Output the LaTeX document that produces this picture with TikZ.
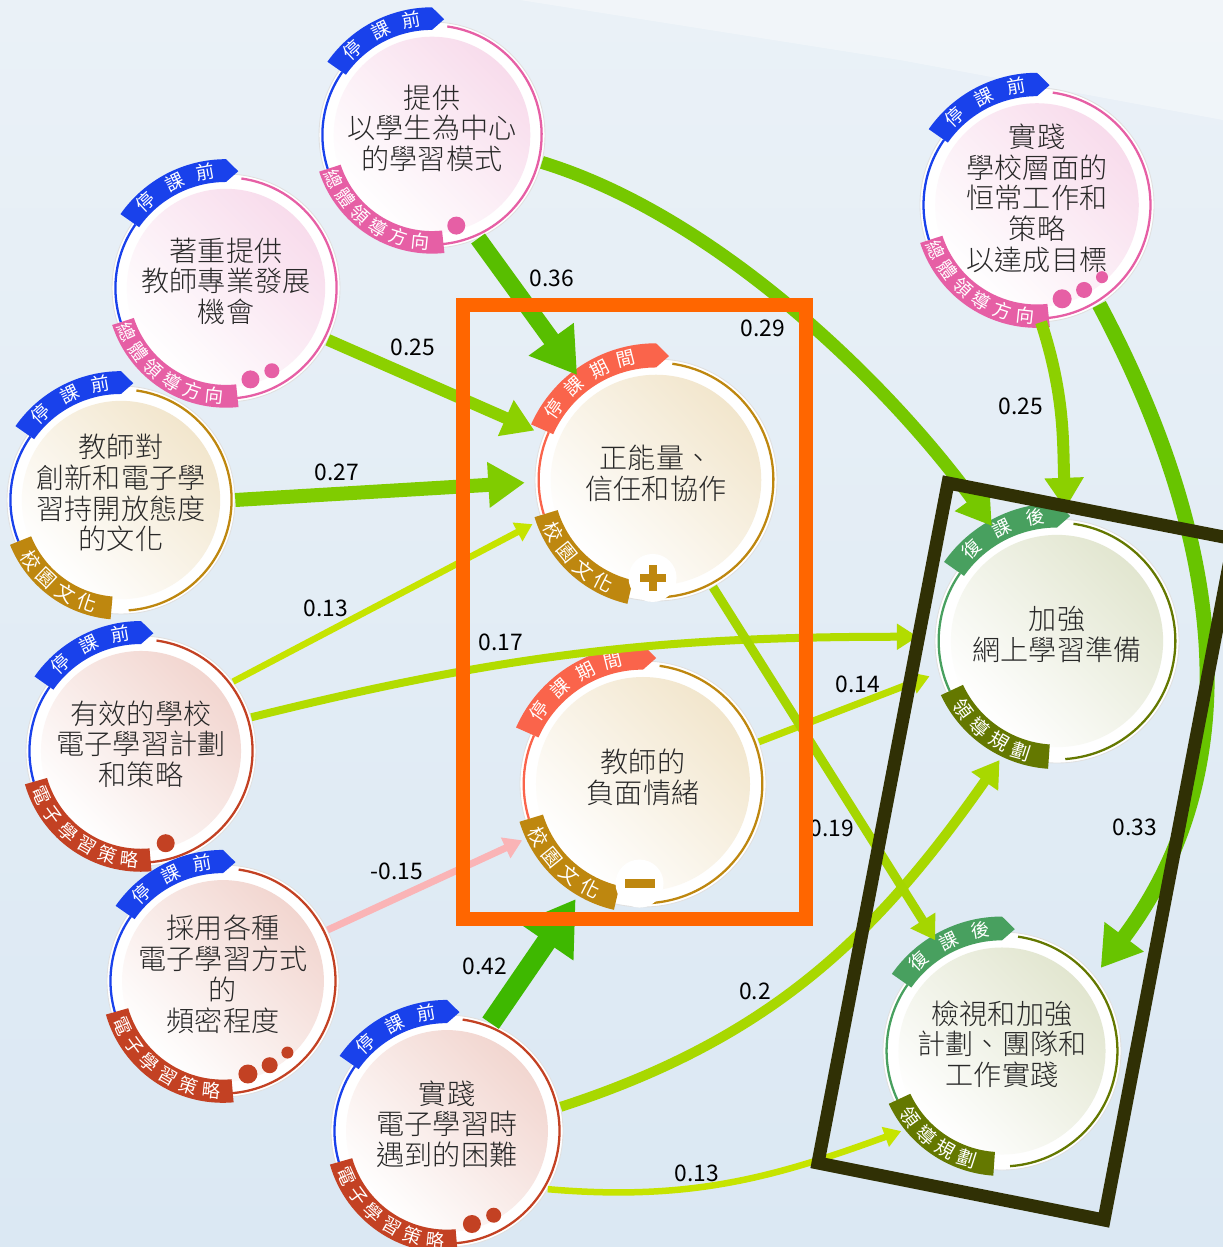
\documentclass[tikz,border=0pt]{standalone}
\usepackage{fontspec}
\setmainfont{Noto Sans CJK TC}
\newfontfamily\thincjk{Noto Sans CJK TC Light}
\usepackage{tikz}
\usetikzlibrary{calc}
\usetikzlibrary{arrows.meta}

\definecolor{bgtop}{RGB}{234,241,247}
\definecolor{bgbot}{RGB}{219,232,243}
\definecolor{txtgray}{RGB}{40,40,40}
\definecolor{stpre}{RGB}{25,65,235}
\definecolor{stdur}{RGB}{250,100,75}
\definecolor{stpost}{RGB}{72,160,95}
\definecolor{catpink}{RGB}{230,95,165}
\definecolor{catred}{RGB}{195,65,35}
\definecolor{catgold}{RGB}{190,135,15}
\definecolor{catolive}{RGB}{100,120,0}
\definecolor{tintpink}{RGB}{248,220,236}
\definecolor{tintred}{RGB}{242,214,208}
\definecolor{tintgold}{RGB}{242,230,205}
\definecolor{tintolive}{RGB}{226,230,208}
\definecolor{e42}{RGB}{62,184,0}
\definecolor{e36}{RGB}{88,190,0}
\definecolor{e33}{RGB}{104,196,0}
\definecolor{e29}{RGB}{118,200,0}
\definecolor{e27}{RGB}{128,204,0}
\definecolor{e25}{RGB}{140,208,0}
\definecolor{e20}{RGB}{168,216,0}
\definecolor{e19}{RGB}{165,214,0}
\definecolor{e17}{RGB}{178,220,0}
\definecolor{e14}{RGB}{186,222,0}
\definecolor{e13}{RGB}{198,228,0}
\definecolor{eneg}{RGB}{250,180,182}
\definecolor{boxorange}{RGB}{255,102,0}
\definecolor{boxolive}{RGB}{48,48,5}

\tikzset{
  bubtext/.style={circle, inner sep=0pt, align=center, text=txtgray, font=\thincjk\fontsize{16}{17.5}\selectfont},
  tagtext/.style={inner sep=0pt, text=white, font=\fontsize{10.5}{10.5}\selectfont},
  bigtag/.style={tagtext, font=\fontsize{11}{11}\selectfont},
  weight/.style={inner sep=1pt, text=black, font=\fontsize{13}{13}\selectfont},
  eff/.style 2 args={draw=#2, line width=#1*0.02cm, shorten >=0.2cm, -{Triangle[length=0pt 2.6, width=0pt 3.1]}},
  frame/.style 2 args={draw=#1, line width=#2*0.02cm, line join=miter},
}

\newcommand{\bubble}[5]{\fill[white, draw=black!12, line width=0.5pt] (#2) circle[radius=#3]; \shade[top color=#4, bottom color=white, shading angle=-45] (#2) circle[radius=0.87*#3]; \node[bubtext, minimum size=#3*0.04cm] (#1) at (#2) {#5\rule[-9pt]{0pt}{0pt}};}
\newcommand{\rings}[6]{\draw[#3, line width=1.3pt] ($(#1.center)+({#5}:{0.97*#2})$) arc[start angle=#5, end angle=#6, radius=0.97*#2]; \draw[#4, line width=1.3pt] ($(#1.center)+(82:{0.97*#2})$) arc[start angle=82, end angle=-86, radius=0.97*#2];}
\newcommand{\stagetag}[5]{\fill[#3] ($(#1.center)+({#4}:{1.13*#2})$) arc[start angle=#4, end angle=90, radius=1.13*#2] -- ($(#1.center)+(84:{1.03*#2})$) -- ($(#1.center)+(90:{0.93*#2})$) arc[start angle=90, end angle=#4, radius=0.93*#2] -- cycle; \foreach \ch/\ang [count=\k] in {#5} {\node[tagtext, rotate=\ang-90] (#1-s\k) at ($(#1.center)+(\ang:{1.03*#2})$) {\ch};}}
\newcommand{\cattag}[7]{\fill[#3] ($(#1.center)+({#4}:{1.05*#2})$) arc[start angle=#4, end angle=#5, radius=1.05*#2] -- ($(#1.center)+({#5}:{0.85*#2})$) arc[start angle=#5, end angle=#4, radius=0.85*#2] -- cycle; \foreach \ch/\ang [count=\k] in {#6} {\node[#7, rotate=\ang+90] (#1-c\k) at ($(#1.center)+(\ang:{0.95*#2})$) {\ch};}}
\newcommand{\pips}[4]{\foreach \ang/\sz in {#4} {\fill[#3] ($(#1.center)+(\ang:{0.83*#2})$) circle[radius=\sz];}}
\newcommand{\plusmark}[2]{\fill[white] ($(#1.center)+(-92:{0.81*#2})$) circle[radius=24]; \fill[catgold] ($(#1.center)+(-92:{0.81*#2})+(-13,-4)$) rectangle ++(26,8); \fill[catgold] ($(#1.center)+(-92:{0.81*#2})+(-4,-13)$) rectangle ++(8,26);}
\newcommand{\minusmark}[2]{\fill[white] ($(#1.center)+(-92:{0.81*#2})$) circle[radius=24]; \fill[catgold] ($(#1.center)+(-92:{0.81*#2})+(-15,-4.5)$) rectangle ++(30,9);}

\begin{document}
\begin{tikzpicture}[x=0.02cm, y=0.02cm]
    \useasboundingbox (0,0) rectangle (1223,-1247);
    \clip (0,0) rectangle (1223,-1247);
    \shade[top color=bgtop, bottom color=bgbot] (0,0) rectangle (1223,-1247);
    \fill[white, opacity=0.35] (520,0) -- (1223,0) -- (1223,-120) -- (900,-60) -- cycle;

    % before closure
    \bubble{A}{432,-135}{113}{tintpink}{提供\\以學生為中心\\的學習模式}
    \rings{A}{113}{stpre}{catpink}{145}{198}
    \stagetag{A}{113}{stpre}{145}{停/133,課/116,前/100}
    \cattag{A}{113}{catpink}{198}{276}{總/204,體/216,領/228,導/240,方/252,向/264}{tagtext}
    \pips{A}{113}{catpink}{-75/9}

    \bubble{B}{226,-288}{114}{tintpink}{著重提供\\教師專業發展\\機會}
    \rings{B}{114}{stpre}{catpink}{145}{198}
    \stagetag{B}{114}{stpre}{145}{停/133,課/116,前/100}
    \cattag{B}{114}{catpink}{198}{276}{總/204,體/216,領/228,導/240,方/252,向/264}{tagtext}
    \pips{B}{114}{catpink}{-75/9,-61/7.5}

    \bubble{C}{121,-500}{114}{tintgold}{教師對\\創新和電子學\\習持開放態度\\的文化}
    \rings{C}{114}{stpre}{catgold}{145}{202}
    \stagetag{C}{114}{stpre}{145}{停/133,課/116,前/100}
    \cattag{C}{114}{catgold}{202}{265}{校/214,園/226.5,文/239,化/251.5}{bigtag}

    \bubble{D}{141,-751}{115}{tintred}{有效的學校\\電子學習計劃\\和策略}
    \rings{D}{115}{stpre}{catred}{145}{196}
    \stagetag{D}{115}{stpre}{145}{停/133,課/116,前/100}
    \cattag{D}{115}{catred}{196}{275}{電/204,子/216,學/228,習/240,策/252,略/264}{tagtext}
    \pips{D}{115}{catred}{-75/9}

    \bubble{E}{223,-981}{116}{tintred}{採用各種\\電子學習方式\\的\\頻密程度}
    \rings{E}{116}{stpre}{catred}{145}{196}
    \stagetag{E}{116}{stpre}{145}{停/133,課/116,前/100}
    \cattag{E}{116}{catred}{196}{275}{電/204,子/216,學/228,習/240,策/252,略/264}{tagtext}
    \pips{E}{116}{catred}{-75/9.5,-61/8,-48/6}

    \bubble{F}{447,-1131}{116}{tintred}{實踐\\電子學習時\\遇到的困難}
    \rings{F}{116}{stpre}{catred}{145}{196}
    \stagetag{F}{116}{stpre}{145}{停/133,課/116,前/100}
    \cattag{F}{116}{catred}{196}{275}{電/204,子/216,學/228,習/240,策/252,略/264}{tagtext}
    \pips{F}{116}{catred}{-75/9,-61/7.5}

    \bubble{G}{1037,-205}{117}{tintpink}{實踐\\學校層面的\\恒常工作和\\策略\\以達成目標}
    \rings{G}{117}{stpre}{catpink}{145}{198}
    \stagetag{G}{117}{stpre}{145}{停/133,課/116,前/100}
    \cattag{G}{117}{catpink}{198}{276}{總/204,體/216,領/228,導/240,方/252,向/264}{tagtext}
    \pips{G}{117}{catpink}{-75/9.5,-61/8,-48/6}

    % during closure
    \bubble{H}{656,-480}{121}{tintgold}{正能量、\\信任和協作}
    \rings{H}{121}{stdur}{catgold}{156}{197}
    \stagetag{H}{121}{stdur}{156}{停/145,課/131,期/117,間/104}
    \cattag{H}{121}{catgold}{197}{257}{校/207,園/219,文/231,化/243}{bigtag}
    \plusmark{H}{121}

    \bubble{I}{643,-784}{123}{tintgold}{教師的\\負面情緒}
    \rings{I}{123}{stdur}{catgold}{156}{197}
    \stagetag{I}{123}{stdur}{156}{停/145,課/131,期/117,間/104}
    \cattag{I}{123}{catgold}{197}{257}{校/207,園/219,文/231,化/243}{bigtag}
    \minusmark{I}{123}

    % after resumption
    \bubble{J}{1057,-641}{122}{tintolive}{加強\\網上學習準備}
    \rings{J}{122}{stpost}{catolive}{145}{205}
    \stagetag{J}{122}{stpost}{145}{復/133,課/116,後/100}
    \cattag{J}{122}{catolive}{205}{266}{領/216,導/228,規/240,劃/252}{bigtag}

    \bubble{K}{1002,-1051}{119}{tintolive}{檢視和加強\\計劃、團隊和\\工作實踐}
    \rings{K}{119}{stpost}{catolive}{145}{205}
    \stagetag{K}{119}{stpost}{145}{復/133,課/116,後/100}
    \cattag{K}{119}{catolive}{205}{266}{領/216,導/228,規/240,劃/252}{bigtag}

    % paths
    \draw[eff={17}{e36}] (A.-66) -- (H.127);
    \draw[eff={12}{e25}] (B.-27) -- (H.158);
    \draw[eff={14}{e27}] (C.0) -- (H.181);
    \draw[eff={6.5}{e13}] (D.37) -- (H.199);
    \draw[eff={7}{eneg}] (E.26) -- (I.205);
    \draw[eff={20}{e42}] (F.68) -- (I.240);
    \draw[eff={13}{e29}] (A.-14) to[out=-17, in=126, looseness=0.8] (J.119);
    \draw[eff={8}{e17}, shorten >=0.34cm] (D.17) to[out=14, in=180] (J.178);
    \draw[eff={7}{e14}] (I.20) -- (J.195);
    \draw[eff={10}{e20}] (F.12) to[out=18, in=235] (J.245);
    \draw[eff={6.5}{e13}] (F.-30) to[out=-5, in=200] (K.220);
    \draw[eff={9}{e19}] (H.-62) -- (K.121);
    \draw[eff={12}{e25}] (G.-88) to[out=-72, in=92] (J.86);
    \draw[eff={15}{e33}] (G.-58) to[out=-62, in=53] (K.39);

    \node[weight] (wAH) at (552,-278) {0.36};
    \node[weight] (wAJ) at (763,-328) {0.29};
    \node[weight] (wBH) at (413,-347) {0.25};
    \node[weight] (wCH) at (337,-472) {0.27};
    \node[weight] (wDH) at (326,-608) {0.13};
    \node[weight] (wDJ) at (501,-642) {0.17};
    \node[weight] (wIJ) at (858,-684) {0.14};
    \node[weight] (wHK) at (832,-828) {0.19};
    \node[weight] (wGK) at (1135,-827) {0.33};
    \node[weight] (wEI) at (397,-871) {-0.15};
    \node[weight] (wFI) at (485,-966) {0.42};
    \node[weight] (wFJ) at (755,-991) {0.2};
    \node[weight] (wFK) at (697,-1173) {0.13};
    \node[weight] (wGJ) at (1021,-406) {0.25};

    % highlighted groups
    \draw[frame={boxorange}{14}] (463,-305) rectangle (806,-919);
    \draw[frame={boxolive}{13}] (948,-483) -- (1234,-539) -- (1104,-1220) -- (818,-1163) -- cycle;
\end{tikzpicture}
\end{document}
